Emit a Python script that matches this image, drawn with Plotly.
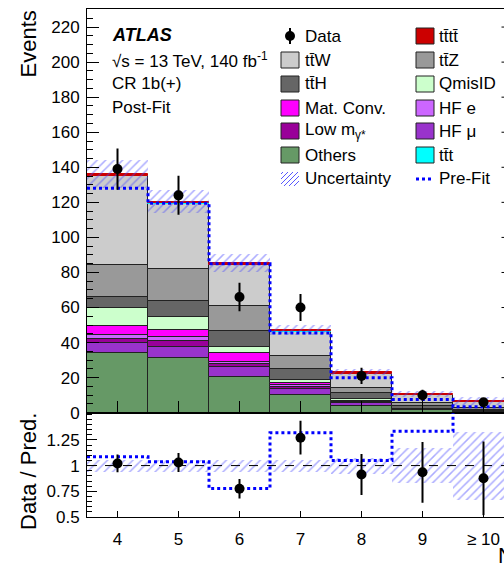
import numpy as np
import plotly.graph_objects as go

# ---- jet multiplicity bins ----
bin_centers = [4, 5, 6, 7, 8, 9, 10]
bin_labels = ["4", "5", "6", "7", "8", "9", "≥ 10"]

# ---- observed events ----
data = [139, 124, 66, 60, 21, 10, 6]

# ---- post-fit background composition (stacked bottom to top) ----
others = [33.9, 31.0, 20.2, 9.9, 3.8, 1.3, 0.6]
hf_mu = [6.0, 6.7, 5.7, 3.4, 1.5, 0.3, 0.15]
low_mgamma = [2.3, 3.0, 1.7, 1.5, 0.5, 0.1, 0.05]
hf_e = [1.9, 2.7, 1.3, 1.0, 0.4, 0.1, 0.05]
mat_conv = [5.4, 3.8, 5.0, 1.1, 0.6, 0.2, 0.1]
qmisid = [10.0, 7.4, 3.4, 1.9, 0.8, 0.2, 0.1]
tth = [6.7, 9.3, 9.3, 5.9, 3.4, 1.5, 0.7]
ttz = [17.9, 18.1, 14.3, 7.6, 3.3, 1.7, 0.8]
ttw = [50.8, 37.1, 23.1, 13.9, 7.8, 4.6, 3.65]
ttt = [0.3, 0.3, 0.2, 0.2, 0.1, 0.1, 0.05]
tttt = [1.0, 1.0, 1.0, 0.8, 0.8, 0.6, 0.6]

# ---- pre-fit total prediction and relative post-fit uncertainty ----
prefit = [128.0, 119.5, 85.0, 45.5, 20.0, 7.5, 3.4]
unc_rel = [0.06, 0.055, 0.06, 0.06, 0.075, 0.17, 0.33]

colors = {
    "Others": "#669966", "HF μ": "#9933cc", "Low m": "#990099", "HF e": "#cc66ff",
    "Mat. Conv.": "#ff00ff", "QmisID": "#ccffcc", "ttH": "#666666", "ttZ": "#999999",
    "ttW": "#cccccc", "ttt": "#00ffff", "tttt": "#cc0000",
}
stack = [
    ("Others", others), ("HF μ", hf_mu), ("Low m", low_mgamma), ("HF e", hf_e),
    ("Mat. Conv.", mat_conv), ("QmisID", qmisid), ("ttH", tth), ("ttZ", ttz),
    ("ttW", ttw), ("ttt", ttt), ("tttt", tttt),
]

FONT = "Liberation Sans, Arial, Helvetica, sans-serif"
HATCH_COLOR = "rgba(70,70,255,0.9)"
W, H = 504, 573
L, T, B = 87, 9, 56
PW, PH = W - L, H - T - B
RATIO_TOP = 412.7  # pixel row separating the two panels
split = (H - B - RATIO_TOP) / PH


def px_x(p):
    return (p - L) / PW


def px_y(p):
    return (H - B - p) / PH


fig = go.Figure()

# stacked histogram
cum = np.zeros(len(bin_centers))
for name, vals in stack:
    v = np.asarray(vals, dtype=float)
    thin = name in ("ttt", "tttt")
    fig.add_trace(go.Bar(
        x=bin_centers, y=v, base=cum.copy(), width=1,
        marker=dict(color=colors[name],
                    line=dict(color=colors[name] if thin else "#222222", width=1)),
        xaxis="x", yaxis="y", showlegend=False, hoverinfo="skip"))
    cum = cum + v
total = cum

data_a = np.asarray(data, dtype=float)
unc = np.asarray(unc_rel)
pre = np.asarray(prefit)

hatch = dict(shape="/", fgcolor=HATCH_COLOR, bgcolor="rgba(0,0,0,0)",
             size=6, solidity=0.25, fillmode="overlay")

# uncertainty band, main panel
fig.add_trace(go.Bar(
    x=bin_centers, y=2 * total * unc, base=total * (1 - unc), width=1,
    marker=dict(color="rgba(0,0,0,0)", line=dict(width=0), pattern=hatch),
    xaxis="x", yaxis="y", showlegend=False, hoverinfo="skip"))

# pre-fit prediction as a dotted step line
edges = np.arange(3.5, 11.0, 1.0)
fig.add_trace(go.Scatter(
    x=edges, y=np.append(pre, pre[-1]), mode="lines",
    line=dict(shape="hv", color="#0000ff", width=3, dash="dot"),
    xaxis="x", yaxis="y", showlegend=False, hoverinfo="skip"))

# data points
fig.add_trace(go.Scatter(
    x=bin_centers, y=data_a, mode="markers",
    marker=dict(color="black", size=10),
    error_y=dict(type="data", array=np.sqrt(data_a), width=0, thickness=2, color="black"),
    xaxis="x", yaxis="y", showlegend=False, hoverinfo="skip"))

# ---- ratio panel ----
fig.add_trace(go.Bar(
    x=bin_centers, y=2 * unc, base=1 - unc, width=1,
    marker=dict(color="rgba(0,0,0,0)", line=dict(width=0), pattern=hatch),
    xaxis="x2", yaxis="y2", showlegend=False, hoverinfo="skip"))

ratio_pre = data_a / pre
fig.add_trace(go.Scatter(
    x=edges, y=np.append(ratio_pre, ratio_pre[-1]), mode="lines",
    line=dict(shape="hv", color="#0000ff", width=3, dash="dot"),
    xaxis="x2", yaxis="y2", showlegend=False, hoverinfo="skip"))

fig.add_trace(go.Scatter(
    x=bin_centers, y=data_a / total, mode="markers",
    marker=dict(color="black", size=10),
    error_y=dict(type="data", array=np.sqrt(data_a) / total, width=0, thickness=2, color="black"),
    xaxis="x2", yaxis="y2", showlegend=False, hoverinfo="skip"))

shapes = [dict(type="line", xref="x2 domain", yref="y2", x0=0, x1=1, y0=1, y1=1,
               line=dict(color="black", width=1, dash="dash"), layer="above")]

# ---- legend (two columns) ----
annotations = []
row_y = [36, 60, 84, 108, 131, 155, 179]
left_col = ["Data", "tt̄W", "tt̄H", "Mat. Conv.", "Low m<sub>γ*</sub>", "Others", "Uncertainty"]
left_keys = [None, "ttW", "ttH", "Mat. Conv.", "Low m", "Others", None]
right_col = ["tt̄tt̄", "tt̄Z", "QmisID", "HF e", "HF μ", "tt̄t", "Pre-Fit"]
right_keys = ["tttt", "ttZ", "QmisID", "HF e", "HF μ", "ttt", None]


def box(x0, yc, color):
    return dict(type="rect", xref="paper", yref="paper",
                x0=px_x(x0), x1=px_x(x0 + 18), y0=px_y(yc + 8), y1=px_y(yc - 8),
                fillcolor=color, line=dict(color="#222222", width=1), layer="above")


for i, (txt, key) in enumerate(zip(left_col, left_keys)):
    yc = row_y[i]
    if key:
        shapes.append(box(281, yc, colors[key]))
    annotations.append(dict(text=txt, x=px_x(303), y=px_y(yc), xref="paper", yref="paper",
                            xanchor="left", yanchor="middle", showarrow=False,
                            font=dict(size=17, color="black", family=FONT)))
for i, (txt, key) in enumerate(zip(right_col, right_keys)):
    yc = row_y[i]
    if key:
        shapes.append(box(416, yc, colors[key]))
    annotations.append(dict(text=txt, x=px_x(437), y=px_y(yc), xref="paper", yref="paper",
                            xanchor="left", yanchor="middle", showarrow=False,
                            font=dict(size=17, color="black", family=FONT)))

# data legend symbol
shapes.append(dict(type="line", xref="paper", yref="paper", x0=px_x(290), x1=px_x(290),
                   y0=px_y(row_y[0] + 8), y1=px_y(row_y[0] - 8),
                   line=dict(color="black", width=2), layer="above"))
shapes.append(dict(type="circle", xref="paper", yref="paper", xsizemode="pixel", ysizemode="pixel",
                   xanchor=px_x(290), yanchor=px_y(row_y[0]), x0=-5, x1=5, y0=-5, y1=5,
                   fillcolor="black", line=dict(color="black", width=0), layer="above"))
# uncertainty legend hatch
yc = row_y[6]
for k in range(-3, 4):
    xs = 281 + 3 + k * 5
    x0, x1 = xs, xs + 14
    y0, y1 = yc + 7, yc - 7
    if x0 < 281:
        y0 -= 281 - x0
        x0 = 281
    if x1 > 299:
        y1 += x1 - 299
        x1 = 299
    if x1 > x0:
        shapes.append(dict(type="line", xref="paper", yref="paper",
                           x0=px_x(x0), x1=px_x(x1), y0=px_y(y0), y1=px_y(y1),
                           line=dict(color=HATCH_COLOR, width=1), layer="above"))
# pre-fit legend line
shapes.append(dict(type="line", xref="paper", yref="paper", x0=px_x(416), x1=px_x(434),
                   y0=px_y(row_y[6]), y1=px_y(row_y[6]),
                   line=dict(color="#0000ff", width=3, dash="dot"), layer="above"))

# short mirrored ticks along the right frame of the upper panel
for v in range(0, 230, 20):
    shapes.append(dict(type="line", xref="paper", yref="y", x0=px_x(501.5), x1=1, y0=v, y1=v,
                       line=dict(color="black", width=1), layer="above"))

# ---- labels ----
annotations += [
    dict(text="<b><i>ATLAS</i></b>", x=px_x(110), y=px_y(35), xref="paper", yref="paper",
         xanchor="left", yanchor="middle", showarrow=False, font=dict(size=18, color="black", family=FONT)),
    dict(text="√s = 13 TeV, 140 fb<sup>-1</sup>", x=px_x(110), y=px_y(60), xref="paper", yref="paper",
         xanchor="left", yanchor="middle", showarrow=False, font=dict(size=17, color="black", family=FONT)),
    dict(text="CR 1b(+)", x=px_x(110), y=px_y(84), xref="paper", yref="paper",
         xanchor="left", yanchor="middle", showarrow=False, font=dict(size=17, color="black", family=FONT)),
    dict(text="Post-Fit", x=px_x(110), y=px_y(107), xref="paper", yref="paper",
         xanchor="left", yanchor="middle", showarrow=False, font=dict(size=17, color="black", family=FONT)),
    dict(text="Events", x=px_x(28), y=px_y(9), xref="paper", yref="paper", textangle=-90,
         xanchor="center", yanchor="top", showarrow=False, font=dict(size=22, color="black", family=FONT)),
    dict(text="Data / Pred.", x=px_x(28), y=px_y(472), xref="paper", yref="paper", textangle=-90,
         xanchor="center", yanchor="middle", showarrow=False, font=dict(size=22, color="black", family=FONT)),
    dict(text="N<sub>jets</sub>", x=px_x(496), y=px_y(557), xref="paper", yref="paper",
         xanchor="left", yanchor="middle", showarrow=False, font=dict(size=22, color="black", family=FONT)),
]

axis_common = dict(showgrid=False, zeroline=False, showline=True, linecolor="black", linewidth=1,
                   tickcolor="black", tickwidth=1, ticks="inside",
                   tickfont=dict(size=17, color="black", family=FONT))

fig.update_layout(
    width=W, height=H, margin=dict(l=L, r=0, t=T, b=B, autoexpand=False),
    paper_bgcolor="white", plot_bgcolor="white", barmode="overlay", bargap=0,
    font=dict(family=FONT, color="black"),
    xaxis=dict(axis_common, domain=[0, 1], range=[3.5, 3.5 + PW / 61.0], anchor="y",
               tickvals=bin_centers, showticklabels=False, ticklen=12, mirror=True),
    xaxis2=dict(axis_common, domain=[0, 1], range=[3.5, 3.5 + PW / 61.0], anchor="y2", matches="x",
                tickvals=bin_centers, ticktext=bin_labels, ticklen=6, mirror=True,
                ticklabelstandoff=7),
    yaxis=dict(axis_common, domain=[split, 1], range=[0, 230.3], anchor="x",
               tick0=0, dtick=20, ticklen=12, ticklabelstandoff=3,
               minor=dict(dtick=5, ticklen=6, ticks="inside", tickcolor="black")),
    yaxis2=dict(axis_common, domain=[0, split], range=[0.5, 1.514], anchor="x2",
                tickvals=[0.5, 0.75, 1, 1.25], ticktext=["0.5", "0.75", "1", "1.25"],
                ticklen=10, ticklabelstandoff=3,
                minor=dict(tick0=0.5, dtick=0.05, ticklen=5, ticks="inside", tickcolor="black")),
    shapes=shapes, annotations=annotations,
)

fig.write_html("out.html")
